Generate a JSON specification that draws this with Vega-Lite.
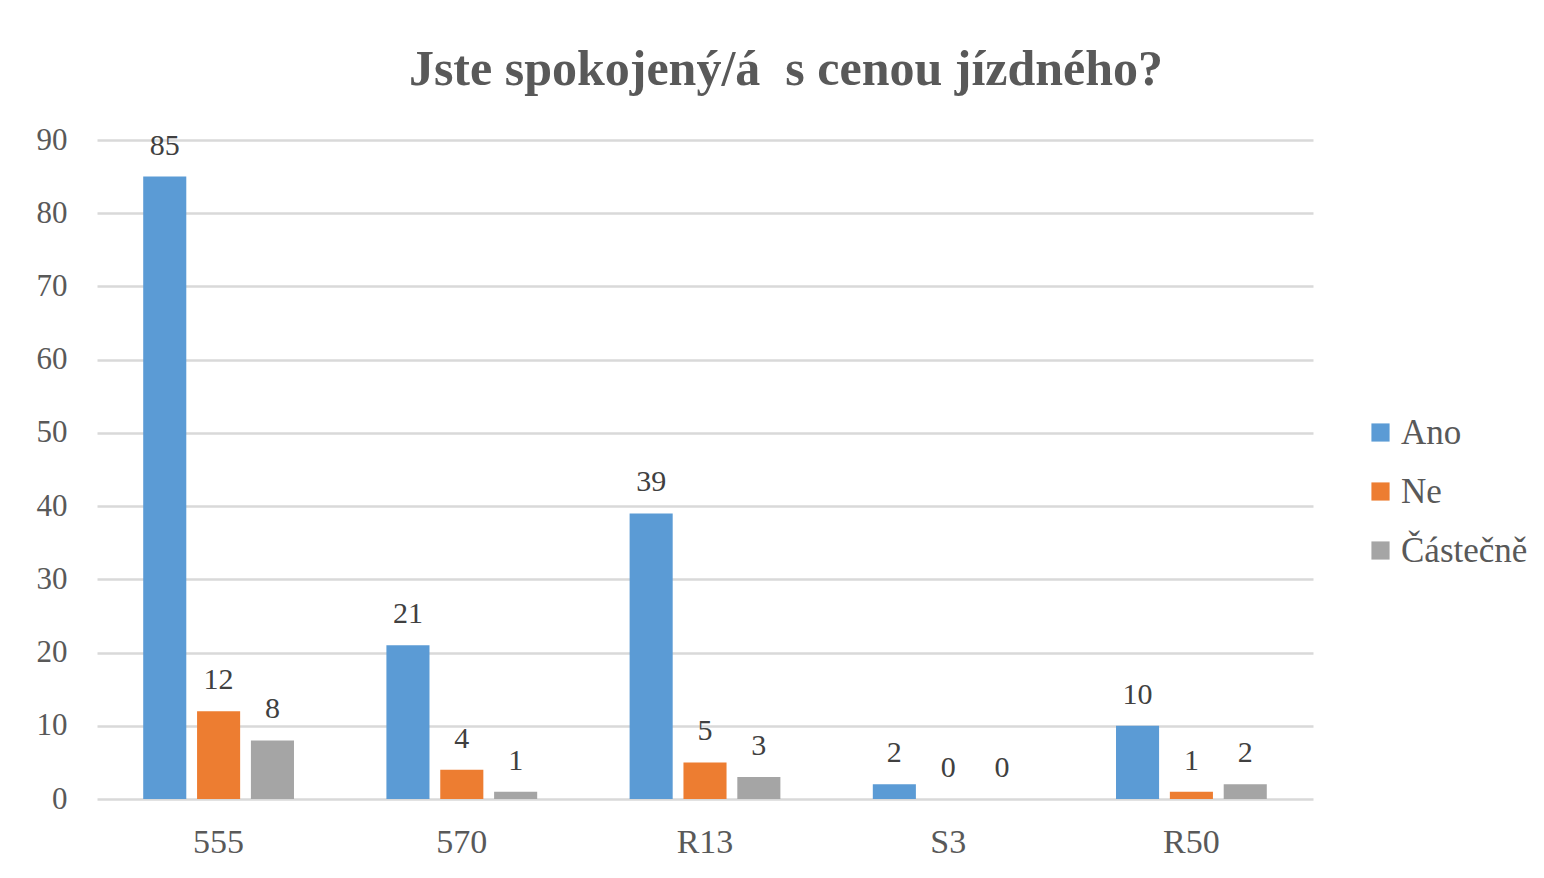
{
  "$schema": "https://vega.github.io/schema/vega-lite/v6.json",
  "width": 1216,
  "height": 659,
  "autosize": {"type": "none"},
  "padding": {"left": 97, "top": 140, "right": 231, "bottom": 79},
  "background": "white",
  "config": {"view": {"stroke": null}},
  "title": {
    "text": "Jste spokojený/á\u00a0 s cenou jízdného?",
    "font": "Liberation Serif",
    "fontSize": 50,
    "fontWeight": "bold",
    "color": "#595959",
    "anchor": "middle",
    "dx": 81,
    "offset": 29
  },
  "data": {
    "values": [
      {"linka": "555", "odpoved": "Ano", "pocet": 85},
      {"linka": "555", "odpoved": "Ne", "pocet": 12},
      {"linka": "555", "odpoved": "Částečně", "pocet": 8},
      {"linka": "570", "odpoved": "Ano", "pocet": 21},
      {"linka": "570", "odpoved": "Ne", "pocet": 4},
      {"linka": "570", "odpoved": "Částečně", "pocet": 1},
      {"linka": "R13", "odpoved": "Ano", "pocet": 39},
      {"linka": "R13", "odpoved": "Ne", "pocet": 5},
      {"linka": "R13", "odpoved": "Částečně", "pocet": 3},
      {"linka": "S3", "odpoved": "Ano", "pocet": 2},
      {"linka": "S3", "odpoved": "Ne", "pocet": 0},
      {"linka": "S3", "odpoved": "Částečně", "pocet": 0},
      {"linka": "R50", "odpoved": "Ano", "pocet": 10},
      {"linka": "R50", "odpoved": "Ne", "pocet": 1},
      {"linka": "R50", "odpoved": "Částečně", "pocet": 2}
    ]
  },
  "encoding": {
    "x": {
      "field": "linka",
      "type": "nominal",
      "sort": ["555", "570", "R13", "S3", "R50"],
      "scale": {"paddingInner": 0.38, "paddingOuter": 0.19},
      "axis": {
        "title": null,
        "labelAngle": 0,
        "labelFont": "Liberation Serif",
        "labelFontSize": 34,
        "labelColor": "#595959",
        "labelPadding": 26,
        "domain": false,
        "ticks": false
      }
    },
    "xOffset": {
      "field": "odpoved",
      "type": "nominal",
      "sort": ["Ano", "Ne", "Částečně"],
      "scale": {"paddingInner": 0.2, "paddingOuter": 0}
    },
    "y": {
      "field": "pocet",
      "type": "quantitative",
      "scale": {"domain": [0, 90]},
      "axis": {
        "title": null,
        "values": [0, 10, 20, 30, 40, 50, 60, 70, 80, 90],
        "labelFont": "Liberation Serif",
        "labelFontSize": 31,
        "labelColor": "#595959",
        "labelPadding": 30,
        "domain": false,
        "ticks": false,
        "grid": true,
        "gridColor": "#D9D9D9",
        "gridWidth": 2.5
      }
    }
  },
  "layer": [
    {
      "mark": {"type": "bar"},
      "encoding": {
        "color": {
          "field": "odpoved",
          "type": "nominal",
          "sort": ["Ano", "Ne", "Částečně"],
          "scale": {
            "domain": ["Ano", "Ne", "Částečně"],
            "range": ["#5B9BD5", "#ED7D31", "#A5A5A5"]
          },
          "legend": {
            "title": null,
            "orient": "none",
            "legendX": 1266,
            "legendY": 275,
            "symbolType": "square",
            "symbolSize": 330,
            "symbolStrokeWidth": 0,
            "labelFont": "Liberation Serif",
            "labelFontSize": 35,
            "labelColor": "#595959",
            "labelOffset": 3,
            "rowPadding": 23
          }
        }
      }
    },
    {
      "mark": {
        "type": "text",
        "font": "Liberation Serif",
        "fontSize": 30,
        "color": "#404040",
        "baseline": "middle",
        "dy": -31
      },
      "encoding": {
        "text": {"field": "pocet", "type": "quantitative"}
      }
    }
  ]
}
